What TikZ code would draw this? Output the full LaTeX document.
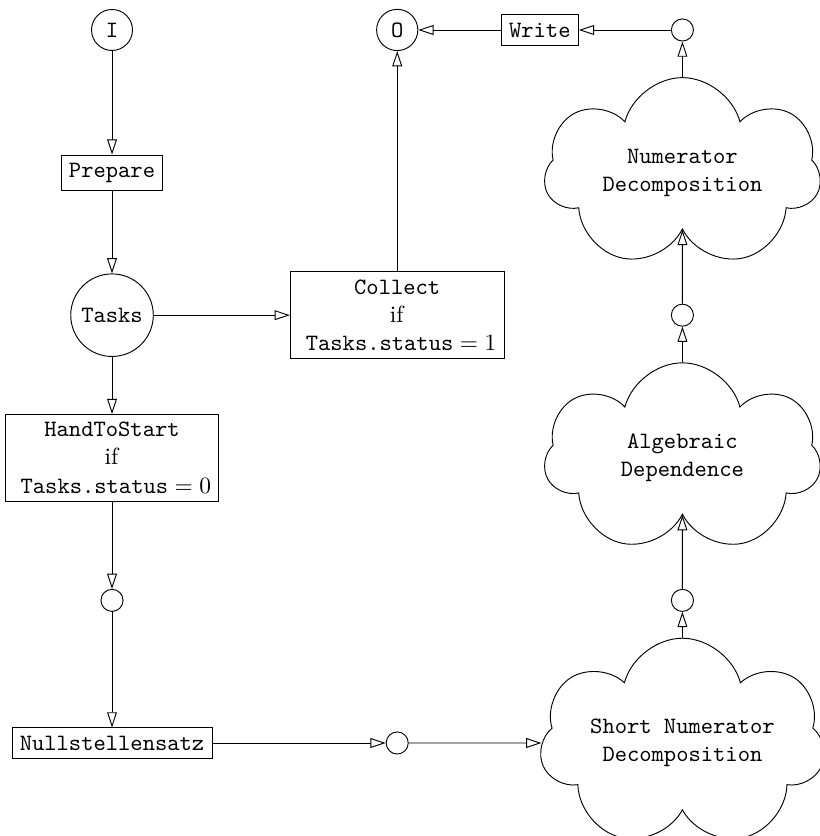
\documentclass[tikz,border=0pt]{standalone}
\usetikzlibrary{shapes.symbols,arrows.meta}
\begin{document}
\begin{tikzpicture}[node distance=2.14cm,
  every node/.style={font=\ttfamily},
  place/.style={draw=black, circle},
  trans/.style={draw=black, rectangle, align=center},
  proc/.style={draw=black, cloud, cloud puffs=7, cloud ignores aspect=false,
    aspect=2, inner sep=1pt, minimum width=4.15cm, minimum height=2.85cm,
    align=center},
  >={Triangle[open, length=6.5pt, width=4.2pt]}]
\useasboundingbox (-1.681,0.450) rectangle (10.610,-12.096);
% left column
\node[place] (in) {I};
\node[trans, below of=in] (prepare) {Prepare};
\node[place, below of=prepare] (tasks) {Tasks};
\node[trans, below of=tasks] (handtostart) {HandToStart\\\textrm{if}\\\hspace*{.33em}$\texttt{Tasks.status} = 0$};
\node[place, below of=handtostart] (p1) {};
\node[trans, below of=p1] (nullstellensatz) {Nullstellensatz};
% middle
\node[place, right of=in, node distance=4.28cm] (out) {O};
\node[trans, right of=tasks, node distance=4.28cm] (collect) {Collect\\\textrm{if}\\\hspace*{.33em}$\texttt{Tasks.status} = 1$};
\node[place, right of=nullstellensatz, node distance=4.28cm] (p2) {};
\node[trans, right of=out] (write) {Write};
% right column
\node[place, right of=write] (p5) {};
\node[proc, below of=p5] (numerator) {Numerator\\Decomposition};
\node[place, below of=numerator] (p4) {};
\node[proc, below of=p4] (algebraic) {Algebraic\\Dependence};
\node[place, below of=algebraic] (p3) {};
\node[proc, below of=p3] (short) {Short Numerator\\Decomposition};
\draw[->] (in) -- (prepare);
\draw[->] (prepare) -- (tasks);
\draw[->] (tasks) -- (handtostart);
\draw[->] (handtostart) -- (p1);
\draw[->] (p1) -- (nullstellensatz);
\draw[->] (nullstellensatz) -- (p2);
\draw[->] (p2) -- (short);
\draw[->] (short) -- (p3);
\draw[->] (p3) -- (algebraic);
\draw[->] (algebraic) -- (p4);
\draw[->] (p4) -- (numerator);
\draw[->] (numerator) -- (p5);
\draw[->] (p5) -- (write);
\draw[->] (write) -- (out);
\draw[->] (tasks) -- (collect);
\draw[->] (collect) -- (out);
\end{tikzpicture}
\end{document}
